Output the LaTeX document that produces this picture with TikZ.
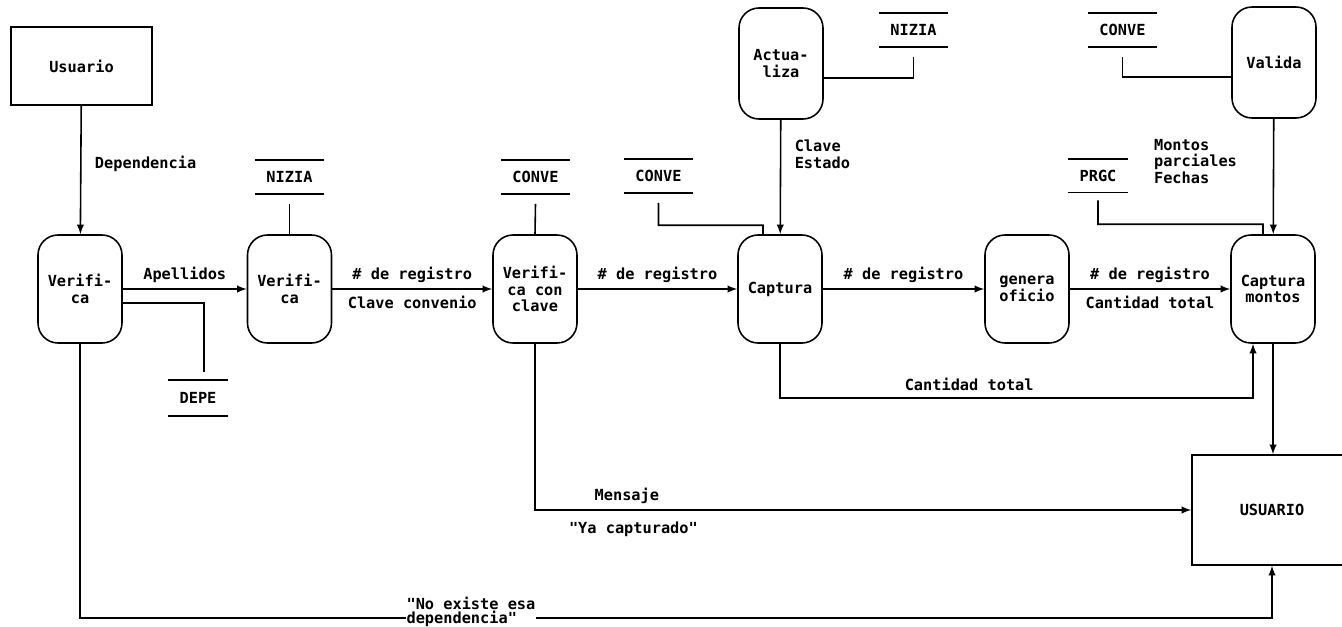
\documentclass[tikz,border=0pt]{standalone}
\usepackage{fontspec}
\setmonofont{DejaVu Sans Mono}
\tikzset{
  proceso/.style={draw, rounded corners=4mm, minimum width=16.8mm, minimum height=21.6mm, align=center, inner sep=1pt},
  almacen/.style={minimum width=13.4mm, minimum height=6.4mm, inner sep=0pt,
    append after command={(\tikzlastnode.north west) edge[draw,-] (\tikzlastnode.north east)
      (\tikzlastnode.south west) edge[draw,-] (\tikzlastnode.south east)}},
  entidad/.style={draw, minimum width=28.2mm, minimum height=15.6mm},
}
\begin{document}
\begin{tikzpicture}[>=latex, x=0.2mm, y=-0.2mm, line width=0.9pt,
    font=\ttfamily\bfseries\fontsize{8.7}{9.5}\selectfont]
    \fill[white] (0,0) rectangle (1342,627);
    \useasboundingbox (0,0) rectangle (1342,627);
    % entidades
    \node[entidad] (usr) at (81.5,66) {Usuario};
    \node[entidad, minimum width=32mm, minimum height=22mm] (USR) at (1272,510) {USUARIO};
    % procesos
    \node[proceso] (ver1) at (80,289) {Verifi-\\ca};
    \node[proceso] (ver2) at (289.5,289) {Verifi-\\ca};
    \node[proceso] (ver3) at (535,289) {Verifi-\\ca con\\clave};
    \node[proceso] (cap) at (780,289) {Captura};
    \node[proceso] (gen) at (1027,289) {genera\\oficio};
    \node[proceso] (capm) at (1273,289) {Captura\\montos};
    \node[proceso, minimum height=22.2mm] (act) at (781,63.5) {Actua-\\liza};
    \node[proceso, minimum height=22.2mm] (val) at (1274,62.5) {Valida};
    % almacenes
    \node[almacen] (niz1) at (289.5,177) {NIZIA};
    \node[almacen] (con1) at (535.5,177) {CONVE};
    \node[almacen] (con2) at (658.5,176) {CONVE};
    \node[almacen] (niz2) at (913.5,30) {NIZIA};
    \node[almacen] (con3) at (1122.5,30) {CONVE};
    \node[almacen, minimum width=11.6mm] (prgc) at (1098,175.5) {PRGC};
    \node[almacen, minimum width=11.6mm, minimum height=6.8mm] (depe) at (198,398) {DEPE};
    % flujo principal
    \draw[->] (usr) -- node[right=1.5mm, pos=0.45] {Dependencia} (ver1);
    \draw[->] (ver1) -- node[above] {Apellidos} (ver2);
    \draw[->] (ver2) -- node[above] {\# de registro} node[below] {Clave convenio} (ver3);
    \draw[->] (ver3) -- node[above] {\# de registro} (cap);
    \draw[->] (cap) -- node[above] {\# de registro} (gen);
    \draw[->] (gen) -- node[above] {\# de registro} node[below] {Cantidad total} (capm);
    \draw[->] (act) -- node[right=1.5mm, pos=0.3, align=left] {Clave\\Estado} (cap);
    \draw[->] (val) -- node[left=6mm, pos=0.37, align=left] {Montos\\parciales\\Fechas} (capm);
    % lecturas de almacenes
    \draw ([yshift=-2mm]niz1.south) -- (ver2.north);
    \draw ([yshift=-2mm]con1.south) -- (ver3.north);
    \draw ([yshift=-2mm]con2.south) |- ([shift={(-17,-9)}]cap.north) -- ([xshift=-3.4mm]cap.north);
    \draw ([yshift=-2mm]niz2.south) |- ([yshift=-2.9mm]act.east);
    \draw ([yshift=-2mm]con3.south) |- ([yshift=-2.9mm]val.west);
    \draw ([yshift=-1.6mm]prgc.south) |- ([shift={(-10,-10)}]capm.north) -- ([xshift=-2mm]capm.north);
    \draw ([yshift=-2.8mm]ver1.east) -| ([shift={(6,-8)}]depe.north);
    % salidas
    \draw[->] (cap.south) -- ++(0,54) -| node[pos=0.2, above] {Cantidad total} ([xshift=-4mm]capm.south);
    \draw[->] (capm.south) -- (capm.south |- USR.north);
    \draw[->] (ver3.south) |- node[pos=0.57, above] {Mensaje} node[pos=0.575, below=1mm] {"Ya capturado"} (USR.west);
    \draw[->] (ver1.south) -- ++(0,274) -| node[pos=0.164, yshift=1.2mm, fill=white, inner sep=0.5pt, align=left, font=\ttfamily\bfseries\fontsize{8.7}{8}\selectfont] {"No existe esa\\dependencia"} (USR.south);
\end{tikzpicture}
\end{document}
